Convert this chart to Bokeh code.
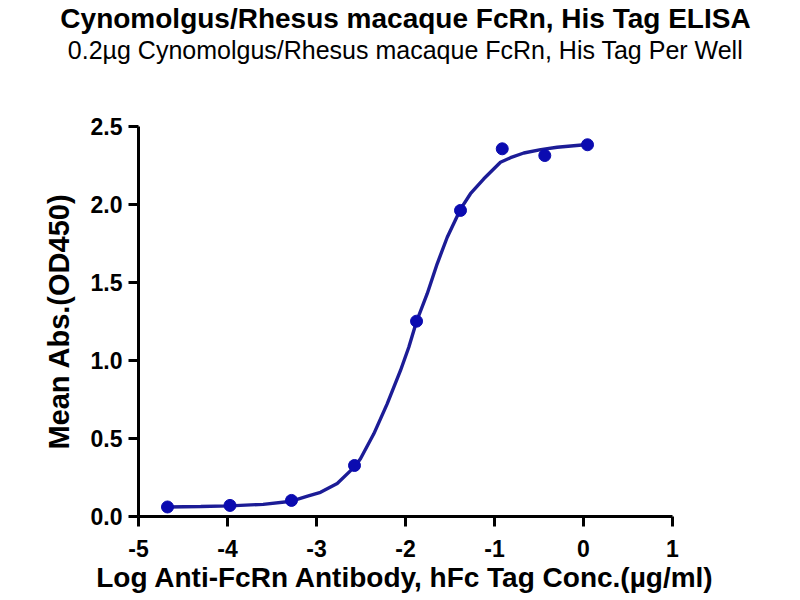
from bokeh.embed import file_html
from bokeh.models import FixedTicker, Range1d, Title
from bokeh.plotting import figure
from bokeh.resources import INLINE

title = "Cynomolgus/Rhesus macaque FcRn, His Tag ELISA"
subtitle = "0.2\u00b5g Cynomolgus/Rhesus macaque FcRn, His Tag Per Well"
x_label = "Log Anti-FcRn Antibody, hFc Tag Conc.(\u00b5g/ml)"
y_label = "Mean Abs.(OD450)"

# measured points (log conc, OD450)
log_conc = [-4.674, -3.972, -3.281, -2.573, -1.876, -1.382, -0.913, -0.435, 0.045]
od450 = [0.061, 0.071, 0.103, 0.327, 1.252, 1.962, 2.357, 2.314, 2.383]

# fitted curve
curve_x = [-4.674, -4.3, -3.972, -3.6, -3.281, -3.1, -2.955, -2.767, -2.573, -2.506,
           -2.356, -2.206, -2.056, -1.963, -1.876, -1.756, -1.644, -1.531, -1.382,
           -1.27, -1.12, -0.933, -0.820, -0.671, -0.480, -0.296, 0.045]
curve_y = [0.061, 0.064, 0.068, 0.078, 0.098, 0.13, 0.155, 0.212, 0.318, 0.37,
           0.53, 0.722, 0.936, 1.085, 1.25, 1.428, 1.62, 1.79, 1.97,
           2.069, 2.165, 2.271, 2.30, 2.33, 2.352, 2.367, 2.385]

x_ticks = [-5, -4, -3, -2, -1, 0, 1]
x_tick_labels = ["-5", "-4", "-3", "-2", "-1", "0", "1"]
y_ticks = [0.0, 0.5, 1.0, 1.5, 2.0, 2.5]
y_tick_labels = ["0.0", "0.5", "1.0", "1.5", "2.0", "2.5"]

FONT = "Liberation Sans"
LINE = "#1c1c96"
DOT = "#0b0bb0"

p = figure(width=800, height=600, output_backend="svg", toolbar_location=None,
           x_range=Range1d(-5, 1), y_range=Range1d(0, 2.5),
           min_border_left=138, min_border_right=128, min_border_top=126, min_border_bottom=84)
p.outline_line_color = None
p.xgrid.grid_line_color = None
p.ygrid.grid_line_color = None
p.background_fill_color = "white"

for ax in (p.xaxis, p.yaxis):
    ax.axis_line_width = 3
    ax.axis_line_color = "black"
    ax.major_tick_line_width = 3
    ax.major_tick_line_color = "black"
    ax.major_tick_out = 10
    ax.major_tick_in = 0
    ax.minor_tick_line_color = None
    ax.major_label_text_font = FONT
    ax.major_label_text_font_style = "bold"
    ax.major_label_text_font_size = "23px"
    ax.major_label_text_color = "black"
    ax.axis_label_text_font = FONT
    ax.axis_label_text_font_style = "bold"
    ax.axis_label_text_color = "black"

p.xaxis.ticker = FixedTicker(ticks=x_ticks)
p.xaxis.major_label_overrides = dict(zip(x_ticks, x_tick_labels))
p.xaxis.axis_label = x_label
p.xaxis.axis_label_text_font_size = "28px"
p.xaxis.major_label_standoff = 13
p.xaxis.axis_label_standoff = 2

p.yaxis.ticker = FixedTicker(ticks=y_ticks)
p.yaxis.major_label_overrides = dict(zip(y_ticks, y_tick_labels))
p.yaxis.axis_label = y_label
p.yaxis.axis_label_text_font_size = "29px"
p.yaxis.major_label_standoff = 6
p.yaxis.axis_label_standoff = 13

p.line(curve_x, curve_y, line_color=LINE, line_width=3.4)
p.scatter(log_conc, od450, size=12, fill_color=DOT, line_color=DOT)

# spacer between the frame and the subtitle
p.add_layout(Title(text=" ", text_font_size="10px", standoff=50), "above")
p.add_layout(Title(text=subtitle, align="center", text_font=FONT, text_font_style="normal",
                   text_font_size="25px", text_color="black", standoff=0), "above")
p.add_layout(Title(text=title, align="center", text_font=FONT, text_font_style="bold",
                   text_font_size="28px", text_color="black", standoff=0), "above")

open("out.html", "w").write(file_html(p, INLINE))
